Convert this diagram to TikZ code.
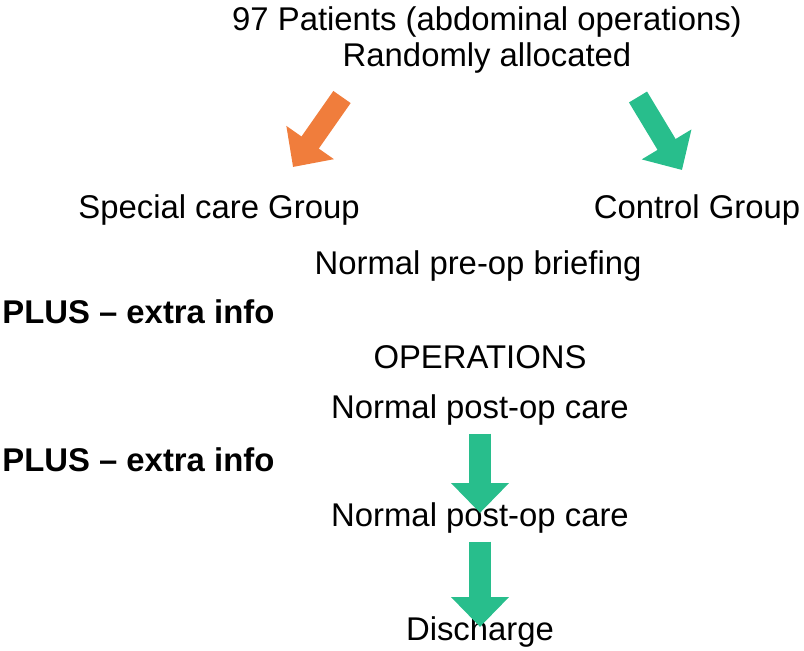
\documentclass[tikz,border=0pt]{standalone}
\usepackage{fontspec}
\setmainfont{Liberation Sans}
\usetikzlibrary{arrows.meta, positioning}
\definecolor{flowgreen}{RGB}{40,190,140}
\definecolor{floworange}{RGB}{240,125,60}
\tikzstyle{txt}=[inner sep=0pt, font=\fontsize{18.7}{22}\selectfont]
\tikzstyle{plus}=[txt, anchor=west, font=\fontsize{18.7}{22}\selectfont\bfseries]
\tikzstyle{blk}=[line width=12pt, -{Triangle[length=17pt, width=32pt]}]

\begin{document}
\begin{tikzpicture}[x=0.02cm, y=-0.02cm]
\useasboundingbox (0,0) rectangle (804,650);
\node[txt] (top) at (487,22) {97 Patients (abdominal operations)};
\node[txt] (rand) at (487,58) {Randomly allocated};
\node[txt] (spec) at (219,210) {Special care Group};
\node[txt] (ctrl) at (697,210) {Control Group};
\node[txt] (pre) at (478,266) {Normal pre-op briefing};
\node[plus] (plusA) at (2,312) {PLUS -- extra info};
\node[txt] (ops) at (480,357) {OPERATIONS};
\node[txt] (postA) at (480,410) {Normal post-op care};
\node[plus] (plusB) at (2,460) {PLUS -- extra info};
\node[txt] (postB) at (480,518) {Normal post-op care};
\node[txt] (dis) at (480,632) {Discharge};

\coordinate (oS) at (342,97);
\coordinate (oE) at (293,167);
\coordinate (gS) at (638,97);
\coordinate (gE) at (682,170);
\draw[blk, floworange] (oS) -- (oE);
\draw[blk, flowgreen] (gS) -- (gE);
\draw[blk, flowgreen] (postA.south -| dis) ++(0,8) -- ([yshift=-6]postB.north -| dis);
\draw[blk, flowgreen] (postB.south -| dis) ++(0,8) -- ([yshift=-6]dis.north);
\end{tikzpicture}
\end{document}
